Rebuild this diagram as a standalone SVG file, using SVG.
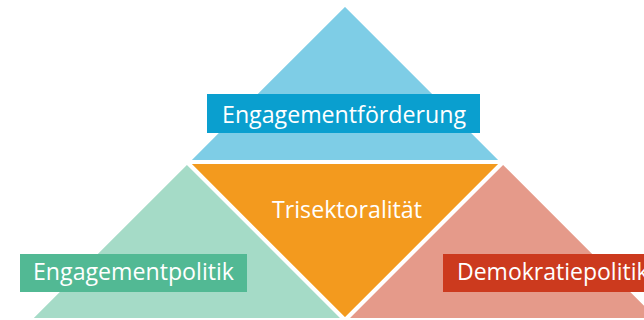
<svg xmlns="http://www.w3.org/2000/svg" width="644" height="320" viewBox="0 0 644 320">
<style>
.tri{stroke:#ffffff;stroke-width:4;stroke-linejoin:miter}
.lbl{font-family:"Open Sans","Noto Sans","Liberation Sans",sans-serif;font-size:23px;fill:#ffffff}
</style>
<rect width="644" height="320" fill="#ffffff"/>
<g id="top">
<polygon class="tri" points="345,4 503,162 187,162" fill="#7ecde6"/>
</g>
<g id="left">
<polygon class="tri" points="187,162 345,320 29,320" fill="#a5dbc7"/>
</g>
<g id="right">
<polygon class="tri" points="503,162 661,320 345,320" fill="#e59a8a"/>
</g>
<g id="center">
<polygon class="tri" points="187,162 503,162 345,320" fill="#f39a1e"/>
<text class="lbl" x="272" y="218" textLength="150" lengthAdjust="spacingAndGlyphs">Trisektoralität</text>
</g>
<g id="engagementfoerderung">
<rect x="207" y="94" width="273" height="39" fill="#0a9fcf"/>
<text class="lbl" x="222" y="123" textLength="244" lengthAdjust="spacingAndGlyphs">Engagementförderung</text>
</g>
<g id="engagementpolitik">
<rect x="20" y="254" width="227" height="38" fill="#52b994"/>
<text class="lbl" x="33" y="280" textLength="201" lengthAdjust="spacingAndGlyphs">Engagementpolitik</text>
</g>
<g id="demokratiepolitik">
<rect x="443" y="254" width="210" height="38" fill="#cc3a1e"/>
<text class="lbl" x="457" y="280">Demokratiepolitik</text>
</g>
<g id="connectors"></g>
</svg>
